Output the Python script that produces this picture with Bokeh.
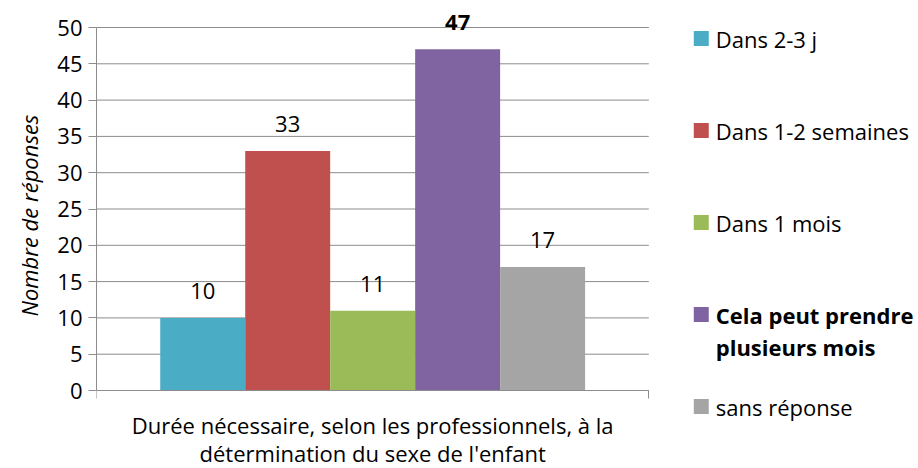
from bokeh.plotting import figure
from bokeh.models import Range1d, LinearAxis, FixedTicker, ColumnDataSource, Title
from bokeh.embed import file_html
from bokeh.resources import INLINE
from bokeh.core.properties import value

# ---- data ----
series = ["Dans 2-3 j", "Dans 1-2 semaines", "Dans 1 mois",
          "Cela peut prendre plusieurs mois", "sans réponse"]
legend_labels = ["Dans 2-3 j", "Dans 1-2 semaines", "Dans 1 mois",
                 "Cela peut prendre\nplusieurs mois", "sans réponse"]
values = [10, 33, 11, 47, 17]
colors = ["#4BACC6", "#C0504D", "#9BBB59", "#8064A2", "#A5A5A5"]
bold = [False, False, False, True, False]
y_ticks = [0, 5, 10, 15, 20, 25, 30, 35, 40, 45, 50]
category_label = ["Durée nécessaire, selon les professionnels, à la",
                  "détermination du sexe de l'enfant"]
y_label = "Nombre de réponses"

# ---- layout constants (canvas pixels) ----
W, H = 918, 468
TOP = 8                    # frame top
AX_L, AX_R = 95, 648       # plot-area left / right
Y0_PX, YMAX_PX = 390, 27   # pixel rows of y=0 and y=50
FONT = "Open Sans"
FS = "22px"
GRID = "#8C8C8C"

n = len(series)
pad = 0.75  # gap between category edge and first/last bar, in bar widths
x_start, x_end = -0.5 - pad, (n - 0.5) + pad
y_max = y_ticks[-1]
ppx = (AX_R - AX_L) / (x_end - x_start)
ppy = (Y0_PX - YMAX_PX) / y_max

styles = ["bold" if b else "normal" for b in bold]
src = ColumnDataSource(dict(x=list(range(n)), values=values, colors=colors,
                            labels=[str(v) for v in values], styles=styles))

p = figure(width=W, height=H, output_backend="svg", toolbar_location=None,
           x_range=Range1d(x_start, x_start + (W - AX_L) / ppx),
           y_range=Range1d(-(H - Y0_PX) / ppy, y_max + (YMAX_PX - TOP) / ppy),
           min_border_left=AX_L, min_border_right=0, min_border_top=TOP, min_border_bottom=0,
           x_axis_type=None, y_axis_type=None)
p.outline_line_color = None
p.xgrid.visible = False
p.ygrid.visible = False
# pixel-space ranges for the legend and category title
p.extra_x_ranges = {"px": Range1d(AX_L, W)}
p.extra_y_ranges = {"px": Range1d(H, TOP)}

# y axis
yax = LinearAxis(ticker=FixedTicker(ticks=y_ticks), bounds=(0, y_max))
yax.axis_line_color = GRID
yax.major_tick_line_color = GRID
yax.major_tick_out = 8
yax.major_tick_in = 0
yax.minor_tick_line_color = None
yax.major_label_text_font = FONT
yax.major_label_text_font_size = FS
yax.major_label_text_color = "black"
yax.major_label_standoff = 6
p.add_layout(yax, "left")

# y axis title, centred on the 0-50 span of the axis (text starts at the bottom)
axis_mid = (Y0_PX + YMAX_PX) / 2
label_len = 215
p.add_layout(Title(text=y_label, align="left", offset=H - (axis_mid + label_len / 2),
                   text_font=FONT, text_font_size=FS, text_font_style="italic",
                   text_color="black", standoff=22), "left")

# x axis at y=0: single category, ticks only at the category boundaries
xax = LinearAxis(ticker=FixedTicker(ticks=[x_start, x_end]), bounds=(x_start, x_end),
                 fixed_location=0)
xax.axis_line_color = GRID
xax.major_tick_line_color = GRID
xax.major_tick_out = 0
xax.major_tick_in = 8
xax.minor_tick_line_color = None
xax.major_label_overrides = {x_start: "", x_end: ""}
xax.major_label_text_font_size = "1px"
xax.major_label_standoff = 0
p.add_layout(xax, "above")

# horizontal grid lines over the plot area only
p.segment(x0=[x_start] * len(y_ticks), x1=[x_end] * len(y_ticks), y0=y_ticks, y1=y_ticks,
          line_color=GRID, line_width=1)

p.vbar(x="x", top="values", bottom=0, width=1.0, color="colors", line_color=None, source=src)
p.text(x="x", y="values", text="labels", source=src,
       text_align="center", text_baseline="alphabetic", y_offset=-27,
       text_font=value(FONT), text_font_size=FS, text_font_style="styles", text_color="black")

# category title below the axis
p.text(x=[(AX_L + AX_R) / 2] * 2, y=[424, 452], text=category_label,
       x_range_name="px", y_range_name="px", text_align="center", text_baseline="middle",
       text_font=value(FONT), text_font_size=FS, text_color="black")

# ---- legend (right side) ----
first_y, step, line_h = 38, 92, 32
lx, ly, lt, ls = [], [], [], []
for i, lab in enumerate(legend_labels):
    for j, line in enumerate(lab.split("\n")):
        lx.append(715)
        ly.append(first_y + step * i + j * line_h)
        lt.append(line)
        ls.append(styles[i])
p.rect(x=[700.5] * n, y=[first_y + step * i for i in range(n)], width=15, height=15,
       color=colors, line_color=None, x_range_name="px", y_range_name="px")
p.text(x=lx, y=ly, text=lt, text_font_style=ls, x_range_name="px", y_range_name="px",
       text_align="left", text_baseline="middle",
       text_font=value(FONT), text_font_size=FS, text_color="black")

open("out.html", "w").write(file_html(p, INLINE))
